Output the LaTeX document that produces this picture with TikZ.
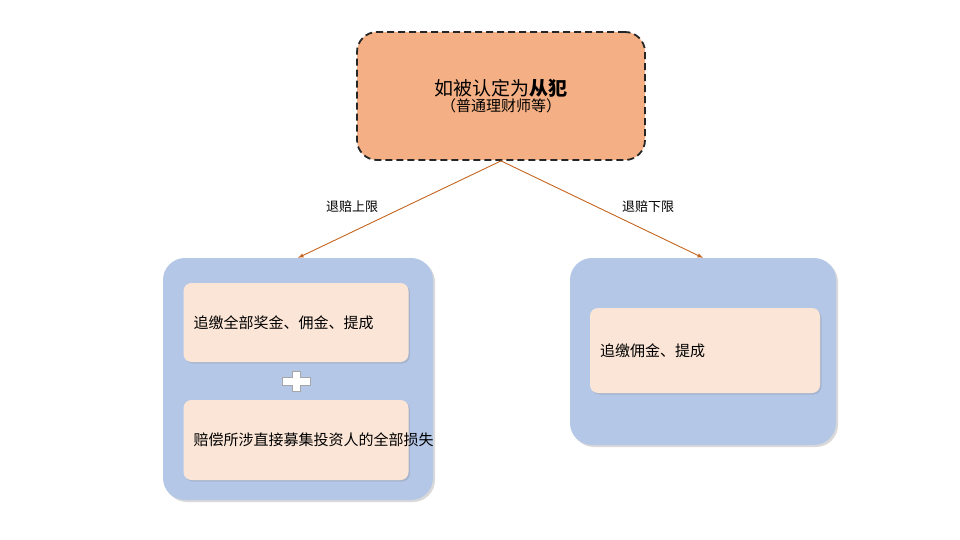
\documentclass[tikz,border=0pt]{standalone}
\usepackage{fontspec}
\newfontfamily\cjk{Noto Sans CJK SC}
\usetikzlibrary{shadows}
\definecolor{orangef}{RGB}{244,176,132}
\definecolor{bluef}{RGB}{180,199,231}
\definecolor{peach}{RGB}{251,229,214}
\definecolor{arr}{RGB}{197,100,30}
\tikzset{
 outer/.style={fill=bluef,rounded corners=22pt,draw=none,drop shadow={shadow xshift=2pt,shadow yshift=-2pt,opacity=0.3}},
 inner/.style={fill=peach,rounded corners=8pt,draw=none,drop shadow={shadow xshift=1.5pt,shadow yshift=-1.5pt,opacity=0.25},text width=205pt,align=left,font=\cjk\fontsize{15}{22}\selectfont,inner sep=10pt},
 con/.style={draw=arr,line width=0.9pt,-latex},
 lab/.style={font=\cjk\fontsize{13}{15}\selectfont}
}
\begin{document}
\begin{tikzpicture}[x=1pt,y=-1pt]
\useasboundingbox (0,0) rectangle (960,540);
\node[fill=orangef,draw=black!85,line width=1.8pt,dash pattern=on 7pt off 4pt,rounded corners=20pt,minimum width=288pt,minimum height=128pt,align=center,font=\cjk] (top) at (501,96)
 {{\fontsize{19}{26}\selectfont 如被认定为\textbf{从犯}}\\{\fontsize{15}{20}\selectfont （普通理财师等）}};
\node[outer,minimum width=270pt,minimum height=242pt] (L) at (298,379) {};
\node[outer,minimum width=266pt,minimum height=187pt] (R) at (703,351.5) {};
\node[inner,minimum height=79pt] (l1) at (296,322.5) {追缴全部奖金、佣金、提成};
\node[inner,minimum height=80pt] (l2) at (296,440) {赔偿所涉直接募集投资人的全部损失};
\node[inner,minimum height=85pt,text width=210pt] (r1) at (705,350.5) {追缴佣金、提成};
\node[draw=gray!70,fill=white,line width=0.8pt,inner sep=0pt,minimum size=0pt] (plus) at (296,381) {};
\draw[draw=gray!70,fill=white,line width=0.8pt] (plus)+(-4,-10) -- +(4,-10) -- +(4,-4) -- +(14,-4) -- +(14,4) -- +(4,4) -- +(4,10) -- +(-4,10) -- +(-4,4) -- +(-14,4) -- +(-14,-4) -- +(-4,-4) -- cycle;
\coordinate (s) at (top.south);
\draw[con] (s) -- (L.north);
\draw[con] (s) -- (R.north);
\node[lab] (la) at (352,207) {退赔上限};
\node[lab] (lb) at (648,207) {退赔下限};
\end{tikzpicture}
\end{document}
